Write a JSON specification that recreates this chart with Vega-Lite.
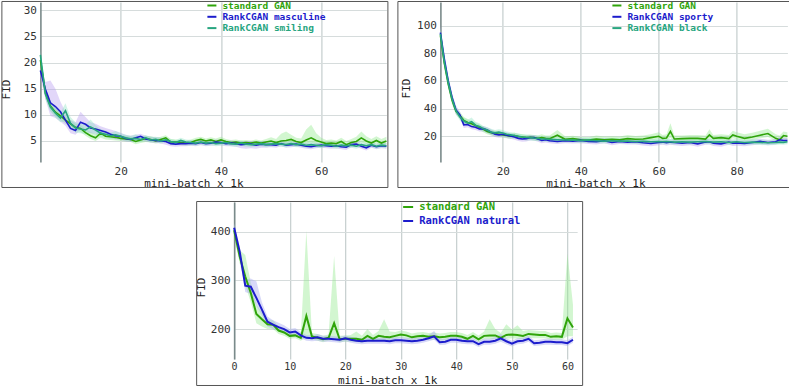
{
"$schema": "https://vega.github.io/schema/vega-lite/v6.json",
"background": "white",
"padding": 0,
"config": {
  "font": "DejaVu Sans Mono",
  "view": {"stroke": null},
  "axis": {"labelFont": "DejaVu Sans Mono", "labelFontSize": 11, "labelColor": "#333333", "titleFont": "DejaVu Sans Mono", "titleFontSize": 11, "titleFontWeight": "normal", "titleColor": "#222222", "ticks": false, "labelFlush": false, "labelOverlap": false, "grid": true, "tickCount": 50, "format": "d"},
  "axisX": {"domain": false, "labelPadding": 3, "gridColor": "#c9d1d1", "gridWidth": 1.3},
  "axisY": {"domain": true, "domainColor": "#7a8a8a", "domainWidth": 1.6, "labelPadding": 4, "gridColor": "#d6dcdc", "gridWidth": 1.2},
  "legend": {"padding": 0, "symbolType": "stroke", "symbolStrokeWidth": 2, "symbolSize": 81, "labelOffset": 5, "labelFont": "DejaVu Sans Mono", "labelFontWeight": "bold", "labelFontSize": 9.5, "rowPadding": 1.3}
},
"datasets": {
"p1": [
{"x":4,"g":20.5,"glo":19.5,"ghi":21.5,"b":18.5,"blo":17.3,"bhi":20,"t":21.5,"tlo":20.5,"thi":22.5},
{"x":5,"g":14.2,"glo":13.2,"ghi":15.3,"b":14.9,"blo":13,"bhi":16.3,"t":14,"tlo":13,"thi":15.2},
{"x":6,"g":11.7,"glo":10.8,"ghi":12.6,"b":12.3,"blo":9.8,"bhi":16.6,"t":11.5,"tlo":10.6,"thi":12.6},
{"x":7,"g":10.5,"glo":9.7,"ghi":11.3,"b":11.6,"blo":9.4,"bhi":15,"t":10.3,"tlo":9.5,"thi":11.4},
{"x":8,"g":9.8,"glo":9,"ghi":10.5,"b":10.6,"blo":8.7,"bhi":12.5,"t":9.4,"tlo":8.6,"thi":10.4},
{"x":9,"g":9,"glo":8.3,"ghi":9.7,"b":9,"blo":7.9,"bhi":10.6,"t":10.8,"tlo":8.8,"thi":12.2},
{"x":10,"g":8.3,"glo":7.6,"ghi":9,"b":7.4,"blo":6.5,"bhi":9,"t":8.4,"tlo":7.4,"thi":9.6},
{"x":11,"g":7.6,"glo":7,"ghi":8.3,"b":7,"blo":6.2,"bhi":8.6,"t":7.5,"tlo":6.6,"thi":8.6},
{"x":12,"g":7.4,"glo":6.7,"ghi":8.1,"b":8.6,"blo":7.2,"bhi":10.6,"t":7.3,"tlo":6.5,"thi":8.3},
{"x":13,"g":6.6,"glo":6,"ghi":7.3,"b":8.2,"blo":7,"bhi":9.6,"t":7.1,"tlo":6.3,"thi":8.2},
{"x":14,"g":6,"glo":5.4,"ghi":6.7,"b":7.5,"blo":6.5,"bhi":8.6,"t":7.7,"tlo":6.6,"thi":9.1},
{"x":15,"g":5.6,"glo":5,"ghi":6.3,"b":7.3,"blo":6.4,"bhi":8.3,"t":7.1,"tlo":6.2,"thi":8},
{"x":16,"g":6.5,"glo":5.6,"ghi":7.1,"b":7,"blo":6.2,"bhi":7.8,"t":6.5,"tlo":5.8,"thi":7.3},
{"x":17,"g":5.9,"glo":5.3,"ghi":6.5,"b":6.7,"blo":6,"bhi":7.5,"t":6.3,"tlo":5.7,"thi":7},
{"x":18,"g":5.8,"glo":5.2,"ghi":6.4,"b":6.3,"blo":5.6,"bhi":7.2,"t":6,"tlo":5.4,"thi":6.6},
{"x":19,"g":5.7,"glo":5.1,"ghi":6.3,"b":6,"blo":5.3,"bhi":6.9,"t":6.2,"tlo":5.5,"thi":6.9},
{"x":20,"g":5.5,"glo":5,"ghi":6.1,"b":5.9,"blo":5.2,"bhi":6.6,"t":5.9,"tlo":5.3,"thi":6.5},
{"x":21,"g":5.4,"glo":4.9,"ghi":6,"b":5.5,"blo":4.9,"bhi":6.2,"t":5.6,"tlo":5,"thi":6.2},
{"x":22,"g":5.3,"glo":4.8,"ghi":5.9,"b":5.3,"blo":4.8,"bhi":6,"t":5.4,"tlo":4.9,"thi":6},
{"x":23,"g":4.9,"glo":4.4,"ghi":5.6,"b":5.6,"blo":5,"bhi":6.2,"t":5.5,"tlo":4.9,"thi":6.3},
{"x":24,"g":5.2,"glo":4.6,"ghi":5.8,"b":5.9,"blo":5.2,"bhi":6.4,"t":5.3,"tlo":4.8,"thi":5.9},
{"x":25,"g":5.5,"glo":4.8,"ghi":6,"b":5.4,"blo":4.9,"bhi":6,"t":5.6,"tlo":5,"thi":6.1},
{"x":26,"g":5.3,"glo":4.7,"ghi":5.9,"b":5.2,"blo":4.7,"bhi":5.8,"t":5.2,"tlo":4.7,"thi":5.8},
{"x":27,"g":5,"glo":4.5,"ghi":5.6,"b":5.1,"blo":4.6,"bhi":5.7,"t":5.3,"tlo":4.8,"thi":5.8},
{"x":28,"g":5.3,"glo":4.7,"ghi":5.8,"b":5,"blo":4.5,"bhi":5.6,"t":5,"tlo":4.5,"thi":5.6},
{"x":29,"g":5.6,"glo":4.9,"ghi":6.1,"b":4.9,"blo":4.3,"bhi":5.5,"t":5.2,"tlo":4.7,"thi":5.7},
{"x":30,"g":4.8,"glo":4.3,"ghi":5.4,"b":4.5,"blo":4,"bhi":5.1,"t":4.9,"tlo":4.4,"thi":5.4},
{"x":31,"g":4.8,"glo":4.3,"ghi":5.3,"b":4.4,"blo":3.9,"bhi":5,"t":4.7,"tlo":4.2,"thi":5.2},
{"x":32,"g":4.7,"glo":4.2,"ghi":5.2,"b":4.5,"blo":4,"bhi":5,"t":5.1,"tlo":4.5,"thi":5.6},
{"x":33,"g":4.6,"glo":4.1,"ghi":5.1,"b":4.5,"blo":4,"bhi":5,"t":4.8,"tlo":4.3,"thi":5.3},
{"x":34,"g":4.7,"glo":4.2,"ghi":5.3,"b":4.6,"blo":4.1,"bhi":5.1,"t":4.7,"tlo":4.2,"thi":5.2},
{"x":35,"g":5.1,"glo":4.5,"ghi":5.6,"b":4.5,"blo":4,"bhi":5,"t":4.6,"tlo":4.1,"thi":5.1},
{"x":36,"g":5.3,"glo":4.7,"ghi":5.8,"b":4.7,"blo":4.2,"bhi":5.2,"t":4.8,"tlo":4.3,"thi":5.3},
{"x":37,"g":5,"glo":4.5,"ghi":5.5,"b":4.5,"blo":4,"bhi":5,"t":4.6,"tlo":4.1,"thi":5.1},
{"x":38,"g":5.2,"glo":4.6,"ghi":5.7,"b":4.6,"blo":4.1,"bhi":5.1,"t":4.7,"tlo":4.2,"thi":5.2},
{"x":39,"g":4.9,"glo":4.4,"ghi":5.5,"b":4.8,"blo":4.2,"bhi":5.3,"t":4.5,"tlo":4,"thi":5},
{"x":40,"g":5.2,"glo":4.6,"ghi":5.8,"b":4.7,"blo":4.2,"bhi":5.2,"t":4.6,"tlo":4.1,"thi":5.1},
{"x":41,"g":4.9,"glo":4.4,"ghi":5.4,"b":4.5,"blo":4,"bhi":5,"t":4.7,"tlo":4.2,"thi":5.2},
{"x":42,"g":4.7,"glo":4.2,"ghi":5.2,"b":4.6,"blo":4,"bhi":5.1,"t":4.5,"tlo":4,"thi":5},
{"x":43,"g":4.8,"glo":4.3,"ghi":5.3,"b":4.5,"blo":3.9,"bhi":5,"t":4.4,"tlo":3.9,"thi":4.9},
{"x":44,"g":4.6,"glo":4.1,"ghi":5.1,"b":4.3,"blo":3.6,"bhi":4.9,"t":4.6,"tlo":4.1,"thi":5.1},
{"x":45,"g":4.7,"glo":4.2,"ghi":5.2,"b":4.4,"blo":3.5,"bhi":5,"t":4.4,"tlo":3.9,"thi":4.9},
{"x":46,"g":4.6,"glo":4.1,"ghi":5.1,"b":4.4,"blo":3.6,"bhi":5,"t":4.3,"tlo":3.8,"thi":4.8},
{"x":47,"g":4.8,"glo":4.2,"ghi":5.3,"b":4.2,"blo":3.5,"bhi":4.8,"t":4.4,"tlo":3.9,"thi":4.9},
{"x":48,"g":4.6,"glo":4.1,"ghi":5.1,"b":4.4,"blo":3.7,"bhi":5,"t":4.5,"tlo":4,"thi":5},
{"x":49,"g":4.8,"glo":4.2,"ghi":5.4,"b":4.3,"blo":3.7,"bhi":4.9,"t":4.3,"tlo":3.8,"thi":4.8},
{"x":50,"g":5,"glo":4.4,"ghi":5.7,"b":4.3,"blo":3.8,"bhi":4.8,"t":4.4,"tlo":3.9,"thi":4.9},
{"x":51,"g":4.7,"glo":4.1,"ghi":5.4,"b":4.2,"blo":3.7,"bhi":4.7,"t":4.5,"tlo":4,"thi":5},
{"x":52,"g":5,"glo":4.3,"ghi":6.4,"b":4.5,"blo":4,"bhi":5,"t":4.4,"tlo":3.9,"thi":4.9},
{"x":53,"g":5.1,"glo":4.4,"ghi":6.8,"b":4.2,"blo":3.7,"bhi":4.7,"t":4.3,"tlo":3.8,"thi":4.8},
{"x":54,"g":5.3,"glo":4.6,"ghi":6.2,"b":4.3,"blo":3.8,"bhi":4.8,"t":4.5,"tlo":4,"thi":5},
{"x":55,"g":4.9,"glo":4.3,"ghi":5.6,"b":4.4,"blo":3.9,"bhi":4.9,"t":4.3,"tlo":3.8,"thi":4.8},
{"x":56,"g":4.7,"glo":4.1,"ghi":5.5,"b":4.2,"blo":3.7,"bhi":4.7,"t":4.4,"tlo":3.9,"thi":4.9},
{"x":57,"g":5.2,"glo":4.5,"ghi":7.2,"b":4,"blo":3.5,"bhi":4.6,"t":4.2,"tlo":3.7,"thi":4.7},
{"x":58,"g":5.6,"glo":4.7,"ghi":8.1,"b":3.9,"blo":3.4,"bhi":4.5,"t":4.3,"tlo":3.8,"thi":4.8},
{"x":59,"g":5.1,"glo":4.4,"ghi":6.5,"b":4.1,"blo":3.6,"bhi":4.6,"t":4.2,"tlo":3.7,"thi":4.7},
{"x":60,"g":4.8,"glo":4.2,"ghi":5.6,"b":4.2,"blo":3.7,"bhi":4.7,"t":4.1,"tlo":3.6,"thi":4.6},
{"x":61,"g":4.5,"glo":4,"ghi":5.2,"b":4.1,"blo":3.6,"bhi":4.6,"t":4.3,"tlo":3.8,"thi":4.8},
{"x":62,"g":4.6,"glo":4,"ghi":5.3,"b":4,"blo":3.5,"bhi":4.5,"t":4.2,"tlo":3.7,"thi":4.7},
{"x":63,"g":4.5,"glo":4,"ghi":5.1,"b":4.1,"blo":3.6,"bhi":4.6,"t":4,"tlo":3.5,"thi":4.5},
{"x":64,"g":4.9,"glo":4.3,"ghi":5.6,"b":3.9,"blo":3.4,"bhi":4.4,"t":4.2,"tlo":3.7,"thi":4.7},
{"x":65,"g":4.3,"glo":3.8,"ghi":5,"b":3.8,"blo":3.3,"bhi":4.4,"t":4.1,"tlo":3.6,"thi":4.6},
{"x":66,"g":4.7,"glo":4.1,"ghi":5.4,"b":4.3,"blo":3.8,"bhi":4.8,"t":4.2,"tlo":3.7,"thi":4.7},
{"x":67,"g":4.9,"glo":4.3,"ghi":5.8,"b":4.4,"blo":3.9,"bhi":4.9,"t":4,"tlo":3.5,"thi":4.5},
{"x":68,"g":5.6,"glo":4.8,"ghi":6.8,"b":4,"blo":3.5,"bhi":4.5,"t":4.3,"tlo":3.8,"thi":4.8},
{"x":69,"g":5,"glo":4.4,"ghi":5.9,"b":3.7,"blo":3.2,"bhi":4.3,"t":4.1,"tlo":3.6,"thi":4.6},
{"x":70,"g":4.6,"glo":4,"ghi":5.4,"b":4.2,"blo":3.7,"bhi":4.7,"t":4.3,"tlo":3.8,"thi":4.8},
{"x":71,"g":5.1,"glo":4.5,"ghi":5.9,"b":3.9,"blo":3.4,"bhi":4.4,"t":4,"tlo":3.5,"thi":4.5},
{"x":72,"g":4.6,"glo":4,"ghi":5.4,"b":4.1,"blo":3.6,"bhi":4.6,"t":4.2,"tlo":3.7,"thi":4.7},
{"x":73,"g":5,"glo":4.4,"ghi":5.8,"b":4,"blo":3.5,"bhi":4.5,"t":4.1,"tlo":3.6,"thi":4.6}
],
"p2": [
{"x":4,"g":93,"glo":88,"ghi":98,"b":95,"blo":90,"bhi":100,"t":94,"tlo":89,"thi":99},
{"x":5,"g":73,"glo":69,"ghi":77,"b":76,"blo":72,"bhi":80,"t":74,"tlo":70,"thi":78},
{"x":6,"g":58,"glo":55,"ghi":62,"b":60,"blo":56,"bhi":64,"t":59,"tlo":55,"thi":63},
{"x":7,"g":46,"glo":43,"ghi":49,"b":48,"blo":45,"bhi":51,"t":47,"tlo":44,"thi":50},
{"x":8,"g":38,"glo":35.5,"ghi":40.5,"b":39,"blo":36,"bhi":42,"t":38.5,"tlo":36,"thi":41},
{"x":9,"g":35,"glo":32.5,"ghi":37.5,"b":35.5,"blo":33,"bhi":38,"t":34,"tlo":31.5,"thi":36.5},
{"x":10,"g":31.5,"glo":29,"ghi":34,"b":28.3,"blo":26,"bhi":31,"t":31,"tlo":28.5,"thi":33.5},
{"x":11,"g":30,"glo":28,"ghi":32.5,"b":28.5,"blo":26.5,"bhi":31,"t":29.5,"tlo":27.5,"thi":32},
{"x":12,"g":29,"glo":27,"ghi":31,"b":27,"blo":25,"bhi":29.5,"t":30.5,"tlo":28,"thi":33.5},
{"x":13,"g":27.8,"glo":26,"ghi":30,"b":26.5,"blo":24.5,"bhi":28.5,"t":28,"tlo":26,"thi":30.5},
{"x":14,"g":26.5,"glo":24.5,"ghi":28.5,"b":25.3,"blo":23.5,"bhi":27.5,"t":27,"tlo":25,"thi":29.5},
{"x":15,"g":25,"glo":23,"ghi":27,"b":25.5,"blo":23.5,"bhi":27.5,"t":25.5,"tlo":23.5,"thi":27.5},
{"x":16,"g":23.5,"glo":21.5,"ghi":25.5,"b":24.5,"blo":22.5,"bhi":26.5,"t":24.5,"tlo":22.5,"thi":26.5},
{"x":17,"g":22.5,"glo":20.5,"ghi":24.5,"b":23,"blo":21,"bhi":25,"t":23,"tlo":21,"thi":25.5},
{"x":18,"g":22,"glo":20,"ghi":24,"b":21.5,"blo":19.5,"bhi":23.5,"t":22.5,"tlo":20.5,"thi":24.5},
{"x":19,"g":21.5,"glo":19.5,"ghi":23.5,"b":21,"blo":19,"bhi":23,"t":23,"tlo":21,"thi":25},
{"x":20,"g":21,"glo":19,"ghi":23,"b":21.5,"blo":19.5,"bhi":23.5,"t":22.3,"tlo":20,"thi":24.5},
{"x":21,"g":20.5,"glo":18.5,"ghi":22.5,"b":20.8,"blo":18.8,"bhi":22.8,"t":21.5,"tlo":19.5,"thi":23.5},
{"x":22,"g":20,"glo":18,"ghi":22,"b":20.2,"blo":18.2,"bhi":22,"t":21,"tlo":19,"thi":23},
{"x":23,"g":20.5,"glo":18.5,"ghi":22.5,"b":19.5,"blo":17.5,"bhi":21.5,"t":20.5,"tlo":18.5,"thi":22.5},
{"x":24,"g":19.8,"glo":18,"ghi":21.8,"b":18.5,"blo":16.5,"bhi":20.5,"t":20,"tlo":18,"thi":22},
{"x":25,"g":19.5,"glo":17.5,"ghi":21.5,"b":18,"blo":16,"bhi":20,"t":19.5,"tlo":17.5,"thi":21.5},
{"x":26,"g":19,"glo":17,"ghi":21,"b":18.3,"blo":16.3,"bhi":20.3,"t":19.2,"tlo":17.2,"thi":21.2},
{"x":27,"g":19.3,"glo":17.5,"ghi":21.3,"b":19,"blo":17,"bhi":21,"t":19,"tlo":17,"thi":21},
{"x":28,"g":19,"glo":17,"ghi":21,"b":19,"blo":17,"bhi":21,"t":18.7,"tlo":16.7,"thi":20.7},
{"x":29,"g":18.5,"glo":16.5,"ghi":20.5,"b":18,"blo":16,"bhi":20,"t":18.5,"tlo":16.5,"thi":20.5},
{"x":30,"g":19,"glo":17,"ghi":21.5,"b":17,"blo":15,"bhi":19,"t":18,"tlo":16,"thi":20},
{"x":31,"g":18.5,"glo":16.5,"ghi":20.5,"b":17.5,"blo":15.5,"bhi":19.5,"t":18,"tlo":16,"thi":20},
{"x":32,"g":18.3,"glo":16.5,"ghi":20.5,"b":16.8,"blo":15,"bhi":18.8,"t":17.8,"tlo":15.8,"thi":19.8},
{"x":34,"g":20.8,"glo":18,"ghi":24.5,"b":16.2,"blo":14.5,"bhi":18,"t":17.5,"tlo":15.5,"thi":19.5},
{"x":36,"g":17.8,"glo":16,"ghi":20,"b":16.8,"blo":15,"bhi":18.8,"t":17.3,"tlo":15.5,"thi":19.3},
{"x":38,"g":18.3,"glo":16.5,"ghi":20.3,"b":16.5,"blo":14.8,"bhi":18.5,"t":17.2,"tlo":15.5,"thi":19.2},
{"x":40,"g":17.5,"glo":15.8,"ghi":19.5,"b":17,"blo":15,"bhi":19,"t":17,"tlo":15,"thi":19},
{"x":42,"g":17.3,"glo":15.5,"ghi":19.3,"b":16.2,"blo":14.5,"bhi":18.2,"t":17.2,"tlo":15.5,"thi":19.2},
{"x":44,"g":18,"glo":16,"ghi":20.5,"b":16,"blo":14,"bhi":18,"t":16.8,"tlo":15,"thi":18.8},
{"x":46,"g":17.5,"glo":15.8,"ghi":19.8,"b":16.8,"blo":15,"bhi":18.8,"t":16.5,"tlo":14.8,"thi":18.5},
{"x":48,"g":17.8,"glo":16,"ghi":20,"b":15.5,"blo":13.5,"bhi":17.5,"t":16.8,"tlo":15,"thi":18.8},
{"x":50,"g":17.5,"glo":15.8,"ghi":19.8,"b":16.3,"blo":14.5,"bhi":18.3,"t":16.5,"tlo":14.8,"thi":18.5},
{"x":52,"g":18.3,"glo":16.5,"ghi":21,"b":15.8,"blo":14,"bhi":17.8,"t":16.5,"tlo":14.8,"thi":18.5},
{"x":54,"g":17.8,"glo":16,"ghi":20.2,"b":16,"blo":14,"bhi":18,"t":16.2,"tlo":14.5,"thi":18.2},
{"x":56,"g":18,"glo":16.2,"ghi":20.5,"b":15.3,"blo":13.3,"bhi":17.3,"t":16.3,"tlo":14.5,"thi":18.3},
{"x":58,"g":19,"glo":17,"ghi":21.5,"b":14.8,"blo":12.8,"bhi":16.8,"t":16,"tlo":14.2,"thi":18},
{"x":60,"g":20,"glo":17.8,"ghi":23,"b":15.5,"blo":13.5,"bhi":17.5,"t":16.2,"tlo":14.5,"thi":18.2},
{"x":61,"g":18.5,"glo":16.5,"ghi":21,"b":15.8,"blo":13.8,"bhi":17.8,"t":16,"tlo":14.2,"thi":18},
{"x":62,"g":18.8,"glo":16.8,"ghi":21.5,"b":15.3,"blo":13.3,"bhi":17.3,"t":16.1,"tlo":14.3,"thi":18.1},
{"x":63,"g":23.5,"glo":19,"ghi":29.5,"b":15.8,"blo":13.8,"bhi":17.8,"t":16,"tlo":14.2,"thi":18},
{"x":64,"g":18,"glo":16,"ghi":20.5,"b":15.5,"blo":13.5,"bhi":17.5,"t":15.8,"tlo":14,"thi":17.8},
{"x":66,"g":18.3,"glo":16.3,"ghi":20.5,"b":15,"blo":13,"bhi":17,"t":16,"tlo":14.2,"thi":18},
{"x":68,"g":18.5,"glo":16.5,"ghi":21,"b":15.5,"blo":13.5,"bhi":17.5,"t":15.8,"tlo":14,"thi":17.8},
{"x":70,"g":18.5,"glo":16.5,"ghi":21,"b":14.5,"blo":12.5,"bhi":16.5,"t":16,"tlo":14.2,"thi":18},
{"x":72,"g":18,"glo":16,"ghi":20.5,"b":15.8,"blo":13.8,"bhi":17.8,"t":16.2,"tlo":14.4,"thi":18.2},
{"x":73,"g":21,"glo":18,"ghi":25,"b":16,"blo":14,"bhi":18,"t":16,"tlo":14.2,"thi":18},
{"x":74,"g":18.5,"glo":16.5,"ghi":21,"b":15,"blo":13,"bhi":17,"t":15.8,"tlo":14,"thi":17.8},
{"x":76,"g":19,"glo":17,"ghi":21.5,"b":14.5,"blo":12.5,"bhi":16.5,"t":16,"tlo":14.2,"thi":18},
{"x":78,"g":18.3,"glo":16.3,"ghi":21,"b":15.8,"blo":13.8,"bhi":17.8,"t":15.5,"tlo":13.7,"thi":17.5},
{"x":79,"g":21,"glo":18.5,"ghi":24,"b":15,"blo":13,"bhi":17,"t":15.8,"tlo":14,"thi":17.8},
{"x":80,"g":20,"glo":17.8,"ghi":23,"b":15.2,"blo":13.2,"bhi":17.2,"t":16,"tlo":14.2,"thi":18},
{"x":82,"g":18.5,"glo":16.5,"ghi":21.5,"b":14.8,"blo":12.8,"bhi":16.8,"t":15.5,"tlo":13.7,"thi":17.5},
{"x":84,"g":19.5,"glo":17.3,"ghi":22.5,"b":15.5,"blo":13.5,"bhi":17.5,"t":15.8,"tlo":14,"thi":17.8},
{"x":86,"g":20.8,"glo":18.5,"ghi":24,"b":16.3,"blo":14.3,"bhi":18.3,"t":15.5,"tlo":13.7,"thi":17.5},
{"x":88,"g":22,"glo":19.5,"ghi":25.5,"b":15.5,"blo":13.5,"bhi":17.5,"t":15.3,"tlo":13.5,"thi":17.3},
{"x":90,"g":18.5,"glo":16.5,"ghi":21.5,"b":16,"blo":14,"bhi":18,"t":15.5,"tlo":13.7,"thi":17.5},
{"x":91,"g":17.5,"glo":15.8,"ghi":20.5,"b":17.5,"blo":15.5,"bhi":19.5,"t":15.8,"tlo":14,"thi":17.8},
{"x":92,"g":20.5,"glo":18,"ghi":23.5,"b":17,"blo":15,"bhi":19,"t":15.6,"tlo":13.8,"thi":17.6},
{"x":93,"g":20,"glo":17.8,"ghi":23,"b":17,"blo":15,"bhi":19,"t":16,"tlo":14.2,"thi":18}
],
"p3": [
{"x":0,"g":403,"glo":390,"ghi":416,"b":408,"blo":398,"bhi":418},
{"x":1,"g":349,"glo":335,"ghi":362,"b":359,"blo":349,"bhi":369},
{"x":2,"g":308,"glo":290,"ghi":352,"b":289,"blo":276,"bhi":302},
{"x":3,"g":274,"glo":255,"ghi":295,"b":287,"blo":272,"bhi":304},
{"x":4,"g":231,"glo":212,"ghi":250,"b":264,"blo":248,"bhi":298},
{"x":5,"g":220,"glo":205,"ghi":235,"b":240,"blo":228,"bhi":255},
{"x":6,"g":210,"glo":200,"ghi":220,"b":215,"blo":205,"bhi":226},
{"x":7,"g":209,"glo":200,"ghi":218,"b":209,"blo":200,"bhi":218},
{"x":8,"g":197,"glo":190,"ghi":205,"b":204,"blo":196,"bhi":213},
{"x":9,"g":193,"glo":186,"ghi":200,"b":200,"blo":193,"bhi":208},
{"x":10,"g":186,"glo":180,"ghi":193,"b":193,"blo":186,"bhi":200},
{"x":11,"g":187,"glo":181,"ghi":194,"b":195,"blo":188,"bhi":202},
{"x":12,"g":182,"glo":176,"ghi":189,"b":187,"blo":181,"bhi":194},
{"x":13,"g":227,"glo":183,"ghi":402,"b":182,"blo":176,"bhi":188},
{"x":14,"g":185,"glo":179,"ghi":192,"b":181,"blo":175,"bhi":187},
{"x":15,"g":182,"glo":176,"ghi":190,"b":183,"blo":176,"bhi":190},
{"x":16,"g":179,"glo":173,"ghi":186,"b":180,"blo":174,"bhi":186},
{"x":17,"g":182,"glo":176,"ghi":189,"b":180,"blo":174,"bhi":186},
{"x":18,"g":212,"glo":178,"ghi":350,"b":179,"blo":173,"bhi":185},
{"x":19,"g":179,"glo":173,"ghi":186,"b":178,"blo":172,"bhi":184},
{"x":20,"g":180,"glo":174,"ghi":187,"b":181,"blo":175,"bhi":187},
{"x":21,"g":180,"glo":174,"ghi":188,"b":178,"blo":172,"bhi":184},
{"x":22,"g":180,"glo":174,"ghi":195,"b":176,"blo":170,"bhi":182},
{"x":23,"g":178,"glo":172,"ghi":186,"b":175,"blo":169,"bhi":181},
{"x":24,"g":186,"glo":178,"ghi":200,"b":176,"blo":170,"bhi":182},
{"x":25,"g":180,"glo":174,"ghi":188,"b":176,"blo":170,"bhi":182},
{"x":26,"g":186,"glo":178,"ghi":196,"b":176,"blo":170,"bhi":182},
{"x":27,"g":184,"glo":177,"ghi":220,"b":176,"blo":170,"bhi":182},
{"x":28,"g":183,"glo":176,"ghi":195,"b":175,"blo":169,"bhi":181},
{"x":29,"g":186,"glo":179,"ghi":194,"b":177,"blo":171,"bhi":183},
{"x":30,"g":189,"glo":182,"ghi":197,"b":177,"blo":171,"bhi":183},
{"x":31,"g":187,"glo":180,"ghi":195,"b":176,"blo":170,"bhi":182},
{"x":32,"g":183,"glo":176,"ghi":191,"b":175,"blo":169,"bhi":181},
{"x":33,"g":185,"glo":178,"ghi":193,"b":176,"blo":170,"bhi":182},
{"x":34,"g":186,"glo":179,"ghi":194,"b":178,"blo":172,"bhi":184},
{"x":35,"g":184,"glo":177,"ghi":192,"b":181,"blo":175,"bhi":188},
{"x":36,"g":185,"glo":178,"ghi":193,"b":185,"blo":178,"bhi":196},
{"x":37,"g":183,"glo":176,"ghi":191,"b":173,"blo":167,"bhi":180},
{"x":38,"g":184,"glo":177,"ghi":192,"b":174,"blo":168,"bhi":180},
{"x":39,"g":186,"glo":179,"ghi":194,"b":178,"blo":172,"bhi":184},
{"x":40,"g":186,"glo":179,"ghi":194,"b":178,"blo":172,"bhi":184},
{"x":41,"g":184,"glo":177,"ghi":192,"b":176,"blo":170,"bhi":182},
{"x":42,"g":180,"glo":174,"ghi":188,"b":175,"blo":169,"bhi":181},
{"x":43,"g":186,"glo":179,"ghi":194,"b":175,"blo":169,"bhi":181},
{"x":44,"g":179,"glo":173,"ghi":187,"b":169,"blo":163,"bhi":175},
{"x":45,"g":186,"glo":179,"ghi":195,"b":174,"blo":168,"bhi":180},
{"x":46,"g":187,"glo":179,"ghi":220,"b":174,"blo":168,"bhi":180},
{"x":47,"g":187,"glo":180,"ghi":200,"b":176,"blo":170,"bhi":183},
{"x":48,"g":182,"glo":175,"ghi":192,"b":181,"blo":174,"bhi":190},
{"x":49,"g":188,"glo":180,"ghi":210,"b":175,"blo":169,"bhi":181},
{"x":50,"g":189,"glo":181,"ghi":199,"b":170,"blo":164,"bhi":176},
{"x":51,"g":188,"glo":180,"ghi":208,"b":175,"blo":169,"bhi":181},
{"x":52,"g":186,"glo":179,"ghi":196,"b":176,"blo":170,"bhi":182},
{"x":53,"g":190,"glo":182,"ghi":198,"b":180,"blo":174,"bhi":186},
{"x":54,"g":189,"glo":181,"ghi":197,"b":171,"blo":165,"bhi":177},
{"x":55,"g":188,"glo":181,"ghi":196,"b":172,"blo":166,"bhi":178},
{"x":56,"g":188,"glo":181,"ghi":196,"b":174,"blo":168,"bhi":180},
{"x":57,"g":184,"glo":178,"ghi":192,"b":174,"blo":168,"bhi":180},
{"x":58,"g":185,"glo":178,"ghi":193,"b":173,"blo":167,"bhi":179},
{"x":59,"g":184,"glo":178,"ghi":192,"b":173,"blo":167,"bhi":179},
{"x":60,"g":222,"glo":185,"ghi":355,"b":171,"blo":165,"bhi":177},
{"x":61,"g":203,"glo":185,"ghi":250,"b":178,"blo":172,"bhi":184}
]
},
"spacing": 12,
"center": true,
"resolve": {"scale": {"stroke": "independent"}, "legend": {"stroke": "independent"}},
"vconcat": [
{
 "spacing": 7,
 "resolve": {"scale": {"stroke": "independent"}, "legend": {"stroke": "independent"}},
 "hconcat": [
 {
  "width": 346, "height": 160,
  "data": {"name": "p1"},
  "layer": [
   {"mark": {"type": "area", "color": "#8fe88a", "opacity": 0.4}, "encoding": {"x": {"field": "x", "type": "quantitative", "scale": {"domain": [4, 73], "nice": false, "zero": false}, "axis": {"title": "mini-batch x 1k", "values": [20, 40, 60], "titleX": 153, "titleY": 24, "titleBaseline": "alphabetic", "titleAlign": "center"}}, "y": {"field": "glo", "type": "quantitative", "scale": {"domain": [0.98, 31.6], "nice": false, "zero": false}, "axis": {"title": "FID", "values": [5, 10, 15, 20, 25, 30], "titleX": -34, "titleY": 87, "titleAngle": 270, "titleBaseline": "middle", "titleAlign": "center"}}, "y2": {"field": "ghi"}}},
   {"mark": {"type": "area", "color": "#b79cf0", "opacity": 0.4}, "encoding": {"x": {"field": "x", "type": "quantitative"}, "y": {"field": "blo", "type": "quantitative"}, "y2": {"field": "bhi"}}},
   {"mark": {"type": "area", "color": "#8fe3c4", "opacity": 0.4}, "encoding": {"x": {"field": "x", "type": "quantitative"}, "y": {"field": "tlo", "type": "quantitative"}, "y2": {"field": "thi"}}},
   {"mark": {"type": "line", "strokeWidth": 1.6}, "encoding": {"x": {"field": "x", "type": "quantitative"}, "y": {"field": "g", "type": "quantitative"}, "stroke": {"datum": "standard GAN", "type": "nominal", "scale": {"domain": ["standard GAN", "RankCGAN masculine", "RankCGAN smiling"], "range": ["#2fa40a", "#1c1ccc", "#27a57f"]}, "legend": {"title": null, "orient": "none", "legendX": 166, "legendY": -2, "encode": {"labels": {"update": {"fill": {"signal": "datum.value == 'standard GAN' ? '#2fa40a' : (datum.value == 'RankCGAN masculine' ? '#1c1ccc' : '#27a57f')"}}}}}}}},
   {"mark": {"type": "line", "strokeWidth": 1.6}, "encoding": {"x": {"field": "x", "type": "quantitative"}, "y": {"field": "b", "type": "quantitative"}, "stroke": {"datum": "RankCGAN masculine", "type": "nominal"}}},
   {"mark": {"type": "line", "strokeWidth": 1.6}, "encoding": {"x": {"field": "x", "type": "quantitative"}, "y": {"field": "t", "type": "quantitative"}, "stroke": {"datum": "RankCGAN smiling", "type": "nominal"}}},
   {"data": {"values": [{}]}, "mark": {"type": "rect", "filled": false, "color": "#555555", "strokeWidth": 1, "clip": false}, "encoding": {"x": {"datum": -3.68, "type": "quantitative"}, "x2": {"datum": 73.3}, "y": {"datum": 31.7, "type": "quantitative"}, "y2": {"datum": -3.9}}}
  ]
 },
 {
  "width": 347, "height": 160,
  "data": {"name": "p2"},
  "layer": [
   {"mark": {"type": "area", "color": "#8fe88a", "opacity": 0.4}, "encoding": {"x": {"field": "x", "type": "quantitative", "scale": {"domain": [4, 93], "nice": false, "zero": false}, "axis": {"title": "mini-batch x 1k", "values": [20, 40, 60, 80], "titleX": 155, "titleY": 24, "titleBaseline": "alphabetic", "titleAlign": "center"}}, "y": {"field": "glo", "type": "quantitative", "scale": {"domain": [1.4, 117.1], "nice": false, "zero": false}, "axis": {"title": "FID", "values": [20, 40, 60, 80, 100], "titleX": -34, "titleY": 86, "titleAngle": 270, "titleBaseline": "middle", "titleAlign": "center"}}, "y2": {"field": "ghi"}}},
   {"mark": {"type": "area", "color": "#b79cf0", "opacity": 0.4}, "encoding": {"x": {"field": "x", "type": "quantitative"}, "y": {"field": "blo", "type": "quantitative"}, "y2": {"field": "bhi"}}},
   {"mark": {"type": "area", "color": "#8fe3c4", "opacity": 0.4}, "encoding": {"x": {"field": "x", "type": "quantitative"}, "y": {"field": "tlo", "type": "quantitative"}, "y2": {"field": "thi"}}},
   {"mark": {"type": "line", "strokeWidth": 1.6}, "encoding": {"x": {"field": "x", "type": "quantitative"}, "y": {"field": "g", "type": "quantitative"}, "stroke": {"datum": "standard GAN", "type": "nominal", "scale": {"domain": ["standard GAN", "RankCGAN sporty", "RankCGAN black"], "range": ["#2fa40a", "#1c1ccc", "#27a57f"]}, "legend": {"title": null, "orient": "none", "legendX": 171, "legendY": -2, "encode": {"labels": {"update": {"fill": {"signal": "datum.value == 'standard GAN' ? '#2fa40a' : (datum.value == 'RankCGAN sporty' ? '#1c1ccc' : '#27a57f')"}}}}}}}},
   {"mark": {"type": "line", "strokeWidth": 1.6}, "encoding": {"x": {"field": "x", "type": "quantitative"}, "y": {"field": "b", "type": "quantitative"}, "stroke": {"datum": "RankCGAN sporty", "type": "nominal"}}},
   {"mark": {"type": "line", "strokeWidth": 1.6}, "encoding": {"x": {"field": "x", "type": "quantitative"}, "y": {"field": "t", "type": "quantitative"}, "stroke": {"datum": "RankCGAN black", "type": "nominal"}}},
   {"data": {"values": [{}]}, "mark": {"type": "rect", "filled": false, "color": "#555555", "strokeWidth": 1, "clip": false}, "encoding": {"x": {"datum": -6.9, "type": "quantitative"}, "x2": {"datum": 93.64}, "y": {"datum": 117.46, "type": "quantitative"}, "y2": {"datum": -17.04}}}
  ]
 }
 ]
},
{
  "width": 343, "height": 157,
  "data": {"name": "p3"},
  "layer": [
   {"mark": {"type": "area", "color": "#8fe88a", "opacity": 0.4}, "encoding": {"x": {"field": "x", "type": "quantitative", "scale": {"domain": [0, 61.75], "nice": false, "zero": false}, "axis": {"title": "mini-batch x 1k", "values": [0, 10, 20, 30, 40, 50, 60], "labelFontSize": 10, "labelPadding": 2, "titleX": 153, "titleY": 24, "titleBaseline": "alphabetic", "titleAlign": "center"}}, "y": {"field": "glo", "type": "quantitative", "scale": {"domain": [138.5, 460.9], "nice": false, "zero": false}, "axis": {"title": "FID", "values": [200, 300, 400], "titleX": -33, "titleY": 85, "titleAngle": 270, "titleBaseline": "middle", "titleAlign": "center"}}, "y2": {"field": "ghi"}}},
   {"mark": {"type": "area", "color": "#a9aaf0", "opacity": 0.45}, "encoding": {"x": {"field": "x", "type": "quantitative"}, "y": {"field": "blo", "type": "quantitative"}, "y2": {"field": "bhi"}}},
   {"mark": {"type": "line", "strokeWidth": 2}, "encoding": {"x": {"field": "x", "type": "quantitative"}, "y": {"field": "g", "type": "quantitative"}, "stroke": {"datum": "standard GAN", "type": "nominal", "scale": {"domain": ["standard GAN", "RankCGAN natural"], "range": ["#2fa40a", "#1c1ccc"]}, "legend": {"title": null, "orient": "none", "legendX": 168, "legendY": -1, "labelFontSize": 10.5, "rowPadding": 2, "symbolSize": 100, "encode": {"labels": {"update": {"fill": {"signal": "datum.value == 'standard GAN' ? '#2fa40a' : '#1c1ccc'"}}}}}}}},
   {"mark": {"type": "line", "strokeWidth": 2}, "encoding": {"x": {"field": "x", "type": "quantitative"}, "y": {"field": "b", "type": "quantitative"}, "stroke": {"datum": "RankCGAN natural", "type": "nominal"}}},
   {"data": {"values": [{}]}, "mark": {"type": "rect", "filled": false, "color": "#555555", "strokeWidth": 1, "clip": false}, "encoding": {"x": {"datum": -6.75, "type": "quantitative"}, "x2": {"datum": 62.74}, "y": {"datum": 461.9, "type": "quantitative"}, "y2": {"datum": 84.1}}},
   {"data": {"values": [{}]}, "mark": {"type": "rule", "opacity": 0, "clip": false}, "encoding": {"x": {"datum": 60, "type": "quantitative"}, "x2": {"datum": 65.3}, "y": {"datum": 300, "type": "quantitative"}}}
  ]
}
]
}
